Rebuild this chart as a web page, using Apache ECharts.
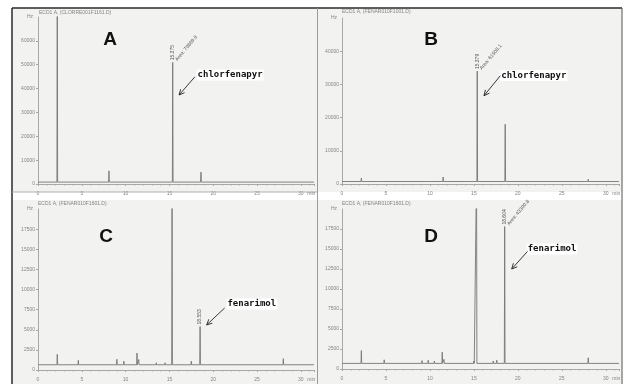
<!DOCTYPE html>
<html><head><meta charset="utf-8">
<script src="https://cdn.jsdelivr.net/npm/echarts@6/dist/echarts.min.js"></script>
<style>html,body{margin:0;padding:0;background:#fff}#c{width:626px;height:384px}</style>
</head><body><div id="c"></div><script>
// ---------------- data ----------------
const panelLetters = ['A', 'B', 'C', 'D'];
const fileNames = ['ECD1 A, (CLORRE001F1161.D)', 'ECD1 A, (FENAR010F1001.D)', 'ECD1 A, (FENAR010F1601.D)', 'ECD1 A, (FENAR010F1601.D)'];
const analyteNames = ['chlorfenapyr', 'chlorfenapyr', 'fenarimol', 'fenarimol'];
const timeTicks = [0, 5, 10, 15, 20, 25, 30];           // min
const yTickStep = [10000, 10000, 2500, 2500];          // Hz
const yTop = [70000, 50000, 20000, 20000];             // Hz
const baselineLevel = [800, 750, 650, 700];            // Hz
// [retention time (min), peak height (Hz)]
const peaksA = [[2.2, 90000], [8.1, 5500], [11.5, 1500], [15.375, 51000], [18.6, 5000], [28.0, 1400]];
const peaksB = [[2.2, 1800], [4.8, 1000], [9.5, 1000], [10.5, 1000], [11.5, 2100], [14.5, 900], [15.379, 34000], [18.56, 18000], [28.0, 1400]];
const peaksC = [[2.2, 1950], [4.6, 1200], [9.0, 1330], [9.8, 1100], [11.3, 2100], [11.5, 1300], [13.5, 900], [14.5, 900], [15.3, 25000], [17.5, 1100], [18.5, 5400], [28.0, 1400]];
const peaksD = [[2.2, 2300], [4.8, 1150], [9.1, 1050], [9.8, 1100], [10.5, 1000], [11.4, 2100], [11.6, 1200], [14.6, 900], [15.0, 1000], [15.3, 25000], [17.2, 1000], [17.6, 1100], [18.0, 900], [18.5, 17800], [28.0, 1400]];
const peakSets = [peaksA, peaksB, peaksC, peaksD];
const markedPeak = [[15.375, 51000], [15.379, 34000], [18.5, 5400], [18.5, 17800]];
const markedRT = ['15.375', '15.379', '18.553', '18.604'];
const markedArea = ['Area: 79869.9', 'Area: 61508.1', '', 'Area: 43390.8'];

// ---------------- layout ----------------
const grids = [
  {left: 38, top: 17, width: 276, height: 167},
  {left: 342, top: 18, width: 277, height: 166},
  {left: 38, top: 209, width: 276, height: 161},
  {left: 342, top: 209, width: 277, height: 160}
];
const xMax = 31.5;
const labelAnchor = [[18.1, 45700], [18.0, 32700], [21.5, 8200], [21.0, 15000]];
const arrowFrom = [[17.9, 44900], [18.0, 32600], [21.3, 7700], [21.1, 14700]];
const arrowTo = [[16.1, 37300], [16.15, 26600], [19.25, 5600], [19.3, 12500]];
const letterPos = [[110, 40], [431, 40], [106, 237], [431, 237]];
const headerPos = [[39, 13], [342, 12], [38, 204], [342, 204]];

const traceColor = '#767676';
const axisColor = '#a8a8a8';
const txtColor = '#858585';

function buildTrace(i) {
  const b = baselineLevel[i];
  const pts = [[0, b], [xMax, b]];
  peakSets[i].forEach(([t, h]) => { pts.push([t - 0.04, b], [t, h], [t + 0.04, b]); });
  pts.sort((p, q) => p[0] - q[0]);
  return pts;
}

const chart = echarts.init(document.getElementById('c'));
const option = {
  animation: false,
  backgroundColor: '#ffffff',
  grid: grids,
  xAxis: grids.map((g, i) => ({
    type: 'value', gridIndex: i, min: 0, max: xMax, interval: 5, offset: 5,
    axisLine: {lineStyle: {color: axisColor, width: 1}},
    axisTick: {length: 2, lineStyle: {color: axisColor}},
    minorTick: {show: true, splitNumber: 5, length: 1.5, lineStyle: {color: axisColor}},
    axisLabel: {fontSize: 5, color: txtColor, margin: 2, showMaxLabel: false, fontFamily: 'Liberation Sans',
      formatter: v => timeTicks.includes(v) ? String(v) : ''},
    splitLine: {show: false}
  })),
  yAxis: grids.map((g, i) => ({
    type: 'value', gridIndex: i, min: 0, max: yTop[i], interval: yTickStep[i],
    name: 'Hz', nameLocation: 'end', nameGap: 0,
    nameTextStyle: {fontSize: 5, color: txtColor, align: 'right', verticalAlign: 'middle', padding: [0, 5, 0, 0]},
    axisLine: {show: true, lineStyle: {color: axisColor, width: 1}},
    axisTick: {show: true, length: 2, lineStyle: {color: axisColor}},
    axisLabel: {fontSize: 5, color: txtColor, margin: 3, showMaxLabel: false, fontFamily: 'Liberation Sans',
      formatter: v => String(v)},
    splitLine: {show: false}
  })),
  series: grids.map((g, i) => ({
    type: 'line', xAxisIndex: i, yAxisIndex: i, data: buildTrace(i),
    showSymbol: false, clip: true, z: 5,
    lineStyle: {color: traceColor, width: 0.9}
  })),
  graphic: []
};
chart.setOption(option);

// ---------- decorations tied to the axes ----------
const g = [];
[[12, 8, 305, 184], [318, 8, 304, 184], [12, 200, 305, 184], [318, 200, 304, 184]].forEach(r => {
  g.push({type: 'rect', z: -10, silent: true, shape: {x: r[0], y: r[1], width: r[2], height: r[3]}, style: {fill: '#f2f2f0'}});
});
g.push({type: 'line', z: 50, shape: {x1: 12, y1: 8, x2: 622, y2: 8}, style: {stroke: '#2a2a2a', lineWidth: 1.5}});
g.push({type: 'line', z: 50, shape: {x1: 12, y1: 8, x2: 12, y2: 384}, style: {stroke: '#2a2a2a', lineWidth: 1.5}});
g.push({type: 'line', z: 50, shape: {x1: 622, y1: 8, x2: 622, y2: 384}, style: {stroke: '#555', lineWidth: 1}});
g.push({type: 'line', z: 50, shape: {x1: 317.5, y1: 8, x2: 317.5, y2: 384}, style: {stroke: '#9a9a9a', lineWidth: 1}});
g.push({type: 'line', z: 50, shape: {x1: 12, y1: 192, x2: 317, y2: 192}, style: {stroke: '#b0b0b0', lineWidth: 1}});

for (let i = 0; i < 4; i++) {
  const px = d => chart.convertToPixel({gridIndex: i}, d);
  g.push({type: 'text', z: 60, x: headerPos[i][0], y: headerPos[i][1],
    style: {text: fileNames[i], fontSize: 5, fill: txtColor, textVerticalAlign: 'middle', fontFamily: 'Liberation Sans'}});
  g.push({type: 'text', z: 60, x: letterPos[i][0], y: letterPos[i][1],
    style: {text: panelLetters[i], fontSize: 19, fontWeight: 'bold', fill: '#111', textAlign: 'center', textVerticalAlign: 'middle', fontFamily: 'Liberation Sans'}});
  const mp = px([31.2, 0]);
  g.push({type: 'text', z: 60, x: mp[0], y: grids[i].top + grids[i].height + 5 + 4.5,
    style: {text: 'min', fontSize: 5, fill: txtColor, textAlign: 'center', textVerticalAlign: 'middle', fontFamily: 'Liberation Sans'}});
  const ap = px(markedPeak[i]);
  g.push({type: 'text', z: 60, x: ap[0], y: ap[1] - 2, rotation: Math.PI / 2,
    style: {text: markedRT[i], fontSize: 5, fill: '#555', textAlign: 'left', textVerticalAlign: 'middle', fontFamily: 'Liberation Sans'}});
  if (markedArea[i]) {
    g.push({type: 'text', z: 60, x: ap[0] + 3.5, y: ap[1] - 2, rotation: 50 * Math.PI / 180,
      style: {text: markedArea[i], fontSize: 5, fill: '#555', textAlign: 'left', textVerticalAlign: 'middle', fontFamily: 'Liberation Sans'}});
  }
  const lp = px(labelAnchor[i]);
  g.push({type: 'text', z: 70, x: lp[0], y: lp[1],
    style: {text: analyteNames[i], fontSize: 9, fontWeight: 'bold', fill: '#111', backgroundColor: '#fff', padding: [1, 1],
      textAlign: 'left', textVerticalAlign: 'middle', fontFamily: 'DejaVu Sans Mono'}});
  const a = px(arrowFrom[i]), b = px(arrowTo[i]);
  const ang = Math.atan2(a[1] - b[1], a[0] - b[0]);
  const L = 6, spread = 0.45;
  g.push({type: 'line', z: 70, shape: {x1: a[0], y1: a[1], x2: b[0], y2: b[1]}, style: {stroke: '#222', lineWidth: 0.9}});
  g.push({type: 'polyline', z: 70, shape: {points: [
    [b[0] + L * Math.cos(ang + spread), b[1] + L * Math.sin(ang + spread)], b,
    [b[0] + L * Math.cos(ang - spread), b[1] + L * Math.sin(ang - spread)]]},
    style: {stroke: '#222', lineWidth: 0.9, fill: null}});
}
chart.setOption({graphic: g});
</script></body></html>
